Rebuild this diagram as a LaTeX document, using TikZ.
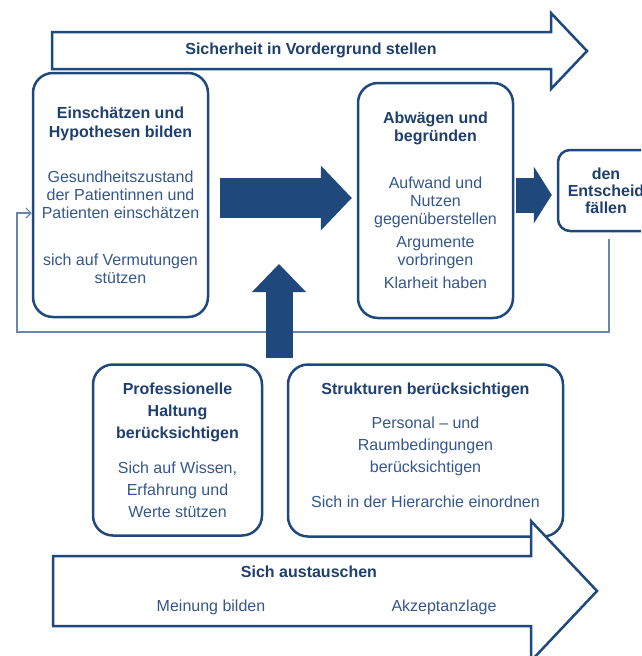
\documentclass[tikz,border=0pt]{standalone}
\usepackage{fontspec}
\setmainfont{Liberation Sans}
\usepackage{tikz}
\usetikzlibrary{arrows.meta, positioning, calc}
\definecolor{navy}{HTML}{1F497D}
\definecolor{titleblue}{HTML}{1F3F6E}
\definecolor{textblue}{HTML}{36578C}
\definecolor{loopblue}{HTML}{6A86AE}
\newcommand{\heading}[1]{{\bfseries\color{titleblue}#1}}

\begin{document}
\begin{tikzpicture}[
    x=1pt, y=-1pt,
    font=\fontsize{16}{18}\selectfont,
    stage/.style 2 args={draw=navy, line width=2.5pt, rounded corners=20pt, fill=white, minimum width=#1, minimum height=#2, align=center, text=textblue, inner sep=0pt},
    band/.style={draw=navy, line width=2.5pt, fill=white, line join=miter},
    bandtitle/.style={font=\fontsize{16}{18}\selectfont\bfseries, text=titleblue},
    blockarrow/.style n args={3}{navy, line width=#1, -{Triangle[width=#2, length=#3, line width=0pt]}},
    feedback/.style={loopblue, line width=1.2pt, -{Straight Barb[length=5pt, width=10pt]}},
]
    \useasboundingbox (0,0) rectangle (641,656);
    \clip (0,0) rectangle (641,656);

    % Stages
    \node[stage={175pt}{244pt}] (einsch) at (120.5,195) {\heading{Einschätzen und}\\[1pt]\heading{Hypothesen bilden}\\[27pt]
        Gesundheitszustand\\der Patientinnen und\\Patienten einschätzen\\[29pt]sich auf Vermutungen\\stützen};
    \node[stage={155pt}{235pt}] (abwaegen) at (435.5,200.5) {\heading{Abwägen und}\\\heading{begründen}\\[29pt]
        Aufwand und\\Nutzen\\gegenüberstellen\\[5pt]Argumente\\vorbringen\\[5pt]Klarheit haben};
    \node[stage={96pt}{81pt}, rounded corners=12pt, font=\fontsize{16}{17}\selectfont] (entscheid) at (606,190.5) {\heading{den}\\\heading{Entscheid}\\\heading{fällen}};
    \node[stage={169pt}{171pt}, font=\fontsize{16}{22}\selectfont] (haltung) at (177.5,450) {\heading{Professionelle}\\\heading{Haltung}\\\heading{berücksichtigen}\\[13pt]
        Sich auf Wissen,\\Erfahrung und\\Werte stützen};
    \node[stage={275pt}{172pt}, font=\fontsize{16}{22}\selectfont] (strukturen) at (425.5,450.5) {\heading{Strukturen berücksichtigen}\\[12pt]
        Personal -- und\\Raumbedingungen\\berücksichtigen\\[13pt]Sich in der Hierarchie einordnen\\[-12pt]};

    % Outline arrows
    \draw[band] (52,32) -- (551,32) -- (551,13) -- (587,51) -- (551,89) -- (551,69) -- (52,69) -- cycle;
    \node[bandtitle] (sicherheit) at (311,50) {Sicherheit in Vordergrund stellen};
    \draw[band] (53,556) -- (531,556) -- (531,521) -- (597,591) -- (531,661) -- (531,626) -- (53,626) -- cycle;
    \node[bandtitle] (austausch) at (309,572) {Sich austauschen};
    \node[text=textblue] (meinung) at (211,607) {Meinung bilden};
    \node[text=textblue] (akzeptanz) at (444,607) {Akzeptanzlage};

    % Feedback loop
    \coordinate (loopR) at (609,332);
    \coordinate (loopL) at (17,332);
    \draw[feedback] ([xshift=3pt, yshift=-7pt]entscheid.south) -- (loopR) -- (loopL) |- ([yshift=-18pt]einsch.west);

    % Block arrows
    \draw[blockarrow={40pt}{65pt}{31pt}] ($(einsch.east)+(11pt,-3pt)$) -- ($(einsch.east -| abwaegen.west)+(-5pt,-3pt)$);
    \draw[blockarrow={35pt}{57pt}{18pt}] ($(abwaegen.east)+(2pt,5.5pt)$) -- ($(abwaegen.east -| entscheid.west)+(-5pt,5.5pt)$);
    \coordinate (upfoot) at (279,358);
    \coordinate (uptip) at (279,264);
    \draw[blockarrow={27pt}{54pt}{28pt}] (upfoot) -- (uptip);
\end{tikzpicture}
\end{document}
